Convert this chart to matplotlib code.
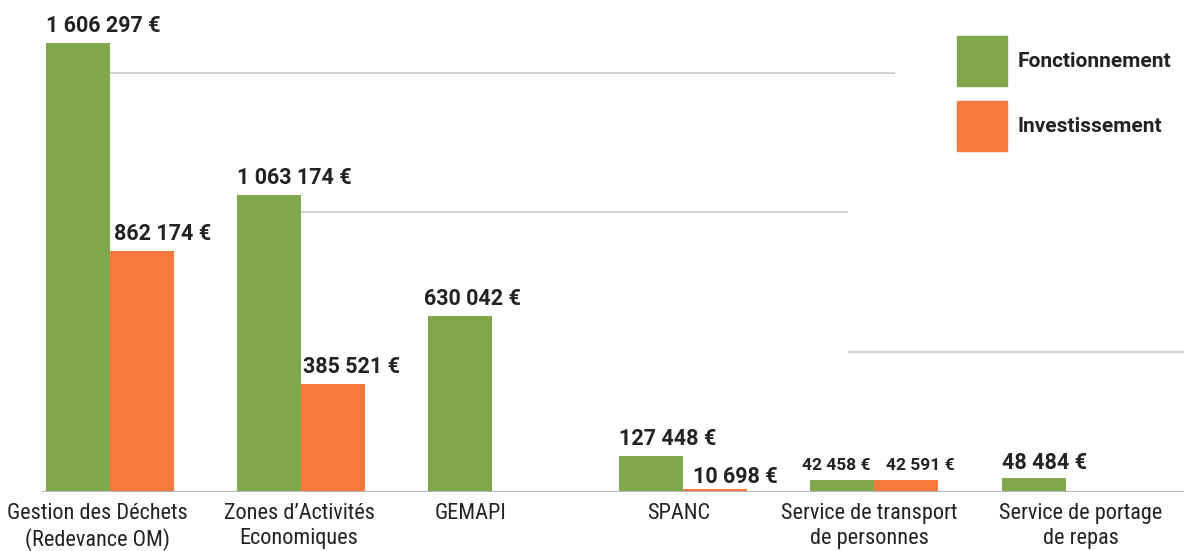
import numpy as np
import matplotlib
matplotlib.use('Agg')
from matplotlib import pyplot as plt
from matplotlib import font_manager
from matplotlib.patches import Patch

# budget per service, in euros
categories = ["Gestion des Déchets\n(Redevance OM)", "Zones d’Activités\nEconomiques", "GEMAPI",
              "SPANC", "Service de transport\nde personnes", "Service de portage\nde repas"]
fonctionnement = [1606297, 1063174, 630042, 127448, 42458, 48484]
investissement = [862174, 385521, 0, 10698, 42591, 0]
legend_labels = ["Fonctionnement", "Investissement"]

green = "#80a74b"
orange = "#f4793a"
grid_color = "#cccccc"

plt.rcParams['font.family'] = ['Roboto', 'DejaVu Sans']

# a narrow face for the axis labels, if one is installed
names = {f.name for f in font_manager.fontManager.ttflist}
narrow = None
for cand in ["Roboto Condensed", "Liberation Sans Narrow", "Arial Narrow"]:
    if cand in names:
        narrow = cand
        break

def fmt(v):
    return "{:,}".format(v).replace(",", " ") + " €"

fig = plt.figure(figsize=(11.84, 5.51), dpi=100)
ax = fig.add_axes([42/1184, 59/551, 1142/1184, 492/551])

x = np.arange(len(categories))
w = 0.335

# partial grid lines as in the original picture
ax.hlines(1500000, 0, 4.11, color=grid_color, lw=1.3, zorder=0)
ax.hlines(1000000, 0.995, 3.86, color=grid_color, lw=1.3, zorder=0)
ax.hlines(500000, 3.86, 5.7, color=grid_color, lw=1.3, zorder=0)
ax.axhline(0, color="#b5b5b5", lw=1.5, zorder=3)

ax.bar(x - w/2, fonctionnement, w, color=green, zorder=2)
ax.bar(x + w/2, investissement, w, color=orange, zorder=2)

# label nudges (points)
nudge_f = [(0, 8), (0, 8), (-3, 8), (0, 8), (-6, 7), (0, 7)]
nudge_i = [(3, 8), (1, 8), (0, 8), (7, 4), (8, 7), (0, 8)]

for i, v in enumerate(fonctionnement):
    small = i == 4
    ax.annotate(fmt(v), (x[i] - w, v), xytext=nudge_f[i], textcoords='offset points',
                ha='left', va='baseline', fontsize=12.5 if small else 15.5,
                fontweight='bold', color="#222222")
for i, v in enumerate(investissement):
    if v == 0:
        continue
    small = i == 4
    ax.annotate(fmt(v), (x[i], v), xytext=nudge_i[i], textcoords='offset points',
                ha='left', va='baseline', fontsize=12.5 if small else 15.5,
                fontweight='bold', color="#222222")

ax.set_xlim(-0.356, 5.62)
ax.set_ylim(0, 1.760e6)
ax.set_xticks(x)
if narrow:
    ax.set_xticklabels(categories, fontsize=16, color="#222222", linespacing=1.24,
                       family=[narrow, 'DejaVu Sans'])
else:
    ax.set_xticklabels(categories, fontsize=13.5, color="#222222", linespacing=1.5)
ax.tick_params(axis='x', length=0, pad=8)
ax.set_yticks([])
for s in ax.spines.values():
    s.set_visible(False)

# hand placed category labels in the original
label_dx = [-13, -2, -22, -5, -5, 15]
for lab, dx in zip(ax.get_xticklabels(), label_dx):
    lab.set_transform(lab.get_transform() + matplotlib.transforms.Affine2D().translate(dx, 0))

handles = [Patch(color=green), Patch(color=orange)]
leg = fig.legend(handles, legend_labels, loc='upper left', bbox_to_anchor=(957/1184, 1 - 36/551),
                 frameon=False, borderpad=0, borderaxespad=0, handlelength=2.4, handleheight=3.3,
                 labelspacing=0.72, handletextpad=0.5, prop={'size': 15, 'weight': 'bold'})
for t in leg.get_texts():
    t.set_color("#222222")

fig.savefig("out.png", dpi=100)
